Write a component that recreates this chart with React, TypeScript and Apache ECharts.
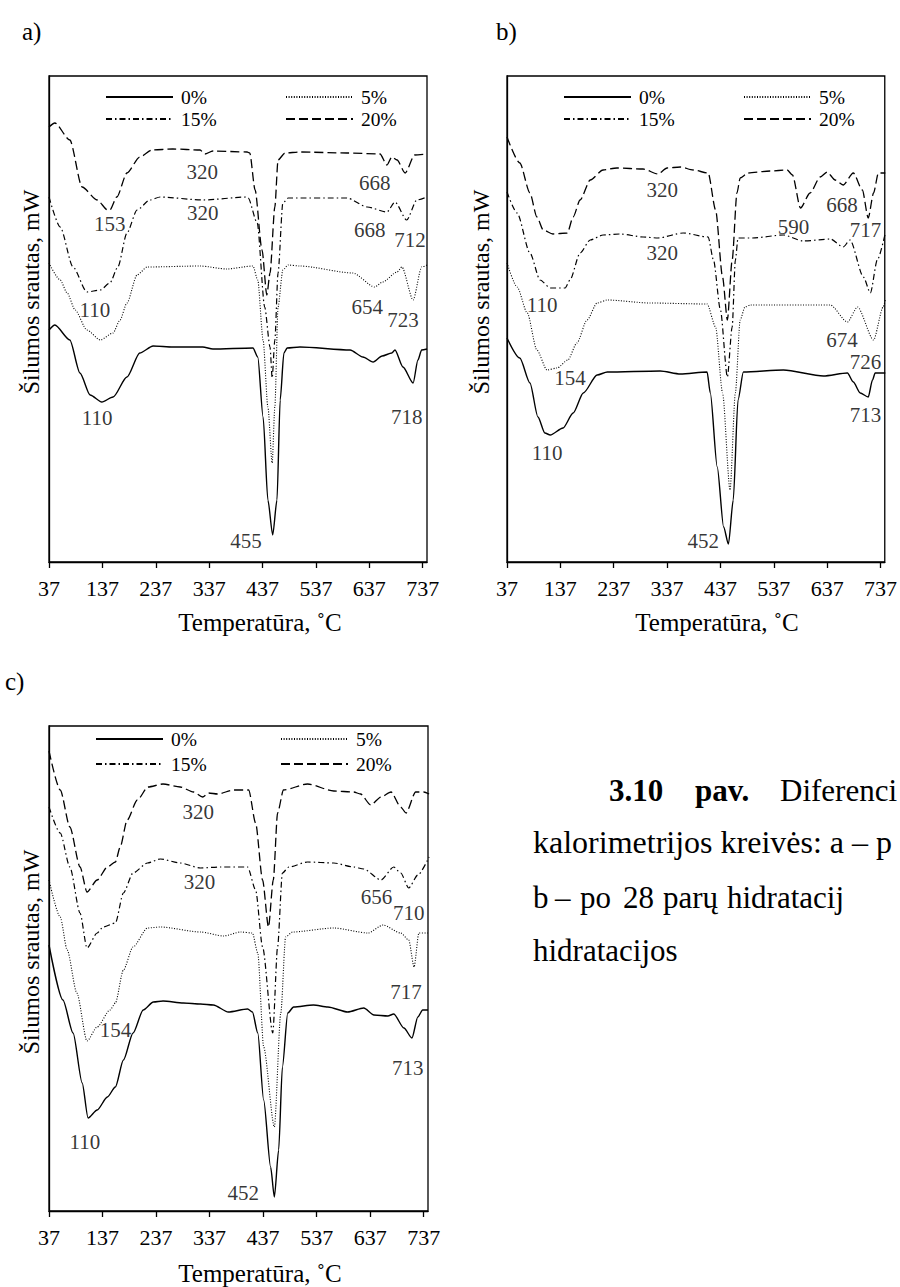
import React, { useEffect, useRef } from "react";
import * as echarts from "echarts";

const FONT = "Liberation Serif";

// Temperature ticks (°C)
const TICKS = [37, 137, 237, 337, 437, 537, 637, 737];
const SERIES_NAMES = ["0%", "5%", "15%", "20%"];

// ---------- Panel a ----------  [temperature °C, heat flow (arb. mW)]
const a20 = [[37,43.5],[48,43.9],[76,42.2],[99,37.5],[127,36.2],[147,35.2],[151,35.2],[164,36.5],[183,38.9],[207,40.5],[230,41.2],[269,41.3],[320,41.2],[329,40.8],[344,41.1],[408,41.0],[413,40.9],[423,37.2],[436,31.2],[445,26.7],[451,28.9],[460,35.5],[466,40.2],[479,40.9],[507,41.0],[595,40.9],[657,40.8],[670,39.7],[679,40.5],[689,40.2],[704,38.9],[722,40.7],[745,40.8]];
const a15 = [[37,36.5],[58,33.5],[82,29.5],[108,27.0],[133,27.2],[151,27.9],[166,29.5],[183,32.9],[202,35.2],[226,36.2],[245,36.5],[325,36.2],[408,36.5],[410,36.4],[427,33.9],[441,25.5],[451,21.5],[455,18.4],[460,22.2],[466,28.9],[475,35.9],[485,36.4],[595,36.4],[633,35.5],[670,35.0],[685,36.0],[707,34.2],[726,36.2],[745,36.5]];
const a5 = [[37,29.9],[58,28.2],[71,26.9],[86,25.2],[108,23.2],[133,22.2],[157,22.9],[170,24.2],[183,25.9],[202,28.7],[221,29.5],[320,29.6],[370,29.3],[419,29.6],[428,28.2],[438,22.2],[447,15.5],[455,9.9],[460,15.5],[466,25.5],[475,29.2],[485,29.7],[507,29.6],[606,28.9],[647,27.5],[662,28.0],[689,29.0],[698,29.5],[719,26.2],[735,29.5],[745,29.7]];
const a0 = [[37,23.2],[48,23.7],[76,22.2],[95,18.9],[114,16.7],[136,16.0],[157,16.5],[183,18.5],[207,20.9],[232,21.6],[269,21.5],[325,21.5],[344,21.3],[419,21.4],[428,20.5],[438,14.5],[447,6.2],[456,2.7],[464,6.2],[470,16.2],[477,20.9],[483,21.4],[507,21.5],[601,21.2],[625,20.5],[644,20.0],[661,20.6],[679,20.9],[685,21.2],[700,19.5],[719,17.9],[728,20.2],[735,21.2],[745,21.3]];
const aLabels = [[151,33.8,"153"],[324,39.0,"320"],[647,37.9,"668"],[325,34.9,"320"],[638,33.2,"668"],[713,32.2,"712"],[123,25.2,"110"],[633,25.5,"654"],[700,24.2,"723"],[127,14.4,"110"],[707,14.5,"718"],[406,2.1,"455"]];

// ---------- Panel b ----------
const b20 = [[37,42.5],[61,39.9],[80,36.9],[93,34.5],[105,33.2],[123,32.8],[150,32.9],[161,34.5],[174,36.2],[193,38.2],[217,39.2],[243,39.4],[292,39.3],[320,38.8],[337,39.4],[362,39.5],[386,39.2],[414,38.9],[428,35.2],[441,28.5],[450,24.2],[459,30.2],[468,36.9],[474,38.4],[489,38.9],[530,39.1],[562,39.2],[572,38.7],[587,35.4],[605,36.9],[624,38.5],[637,39.0],[652,38.2],[667,37.7],[686,38.9],[703,37.2],[714,34.4],[724,36.9],[733,38.9],[746,38.9]];
const b15 = [[37,37.0],[56,34.9],[80,30.9],[99,28.2],[118,27.4],[146,27.4],[155,28.2],[174,30.9],[193,32.2],[217,32.7],[249,32.8],[292,32.5],[320,32.4],[367,32.9],[414,32.5],[424,30.2],[437,25.2],[450,18.5],[459,23.5],[465,30.2],[470,32.4],[497,32.4],[555,32.7],[592,32.1],[643,32.3],[667,31.5],[680,32.2],[705,28.5],[718,26.9],[731,30.2],[746,32.9]];
const b5 = [[37,29.9],[56,27.5],[75,24.9],[93,21.2],[112,19.2],[131,19.4],[151,20.2],[168,21.9],[187,24.2],[206,25.9],[225,26.2],[305,25.9],[412,25.8],[428,23.5],[441,16.9],[455,7.2],[465,16.9],[474,24.2],[483,25.5],[493,25.7],[643,25.7],[675,24.0],[694,25.5],[724,22.2],[742,25.5],[746,26.2]];
const b0 = [[37,22.4],[61,20.4],[80,17.9],[95,14.5],[108,12.9],[118,12.7],[142,13.4],[161,14.9],[180,16.9],[206,18.7],[225,19.0],[324,19.1],[362,18.8],[412,19.0],[418,16.9],[431,9.5],[443,3.5],[452,1.8],[461,6.2],[470,16.2],[480,19.0],[555,19.2],[630,18.6],[675,18.9],[686,18.0],[699,16.9],[714,16.5],[722,18.2],[727,18.9],[746,18.9]];
const bLabels = [[328,37.2,"320"],[328,30.9,"320"],[574,33.5,"590"],[665,35.7,"668"],[709,33.2,"717"],[103,25.7,"110"],[665,22.2,"674"],[709,20.0,"726"],[155,18.4,"154"],[112,10.9,"110"],[709,14.7,"713"],[405,2.1,"452"]];

// ---------- Panel c ----------
const c20 = [[37,46.0],[58,42.1],[76,38.4],[95,34.4],[108,31.9],[127,33.1],[146,34.4],[161,34.9],[170,36.4],[183,39.1],[202,41.1],[222,42.4],[250,42.7],[282,42.4],[307,41.9],[324,41.4],[335,41.8],[352,41.7],[382,42.1],[410,42.1],[423,38.8],[436,33.1],[447,28.4],[456,33.1],[464,39.8],[475,42.1],[520,42.7],[569,42.0],[606,41.9],[619,41.7],[638,40.6],[657,41.4],[676,41.9],[694,40.4],[704,39.8],[722,41.9],[737,41.9],[747,41.7]];
const c15 = [[37,40.4],[58,37.8],[76,34.4],[95,29.8],[108,26.3],[127,27.8],[138,28.4],[161,28.8],[176,31.8],[194,33.8],[221,34.8],[245,35.2],[282,34.8],[320,34.3],[357,34.4],[408,34.4],[423,32.1],[436,26.4],[455,17.8],[464,26.4],[473,33.8],[485,34.4],[520,34.9],[569,34.8],[606,34.4],[625,34.2],[657,33.1],[681,34.4],[694,33.8],[709,32.3],[726,33.6],[747,35.4]];
const c5 = [[37,33.1],[58,29.4],[71,26.1],[89,21.8],[108,17.0],[127,18.4],[151,20.1],[161,20.8],[176,24.1],[194,26.4],[221,28.3],[245,28.4],[320,27.9],[363,27.5],[395,27.9],[417,27.8],[427,25.8],[438,16.4],[458,8.4],[470,19.8],[479,27.4],[492,27.9],[569,28.3],[633,27.8],[661,28.6],[694,27.8],[709,27.1],[719,24.4],[728,27.8],[745,27.8]];
const c0 = [[37,26.6],[63,21.1],[82,17.8],[99,12.8],[110,9.3],[127,10.1],[146,11.4],[161,12.4],[176,15.1],[194,17.8],[213,20.1],[232,20.9],[250,21.0],[288,20.8],[320,20.7],[344,20.6],[372,19.9],[408,20.2],[417,19.9],[427,17.8],[438,11.1],[451,4.4],[458,1.4],[466,6.1],[473,14.4],[483,19.8],[494,20.4],[531,20.6],[558,20.4],[595,19.9],[625,20.3],[644,19.6],[670,19.5],[681,19.7],[700,18.3],[715,17.3],[726,19.4],[735,20.1],[745,20.1]];
const cLabels = [[316,39.9,"320"],[318,32.9,"320"],[649,31.4,"656"],[709,29.8,"710"],[704,21.9,"717"],[161,18.1,"154"],[707,14.3,"713"],[104,6.9,"110"],[400,1.8,"452"]];

const PANELS = [
  { series: [a0, a5, a15, a20], labels: aLabels, yMax: 48.6 },
  { series: [b0, b5, b15, b20], labels: bLabels, yMax: 48.6 },
  { series: [c0, c5, c15, c20], labels: cLabels, yMax: 48.5 },
];

const GRIDS = [
  { left: 49, top: 76, width: 378, height: 486 },
  { left: 507, top: 76, width: 378, height: 486 },
  { left: 49, top: 726, width: 379, height: 485 },
];

const LINE_STYLES: Record<string, any> = {
  "0%": { type: "solid", width: 1.4 },
  "5%": { type: [1, 1.6], width: 1.1 },
  "15%": { type: [6, 3, 1.5, 3], width: 1.2 },
  "20%": { type: [9, 4], width: 1.3 },
};

function txt(x: number, y: number, text: string, fontSize: number, opts: any = {}) {
  return {
    type: "text",
    x,
    y,
    rotation: opts.rotation || 0,
    z: 10,
    style: {
      text,
      fontSize,
      fontFamily: FONT,
      fontWeight: opts.bold ? "bold" : "normal",
      fill: "#000",
      align: opts.align || "left",
      verticalAlign: "middle",
    },
  };
}

export default function App() {
  const ref = useRef<HTMLDivElement>(null);
  useEffect(() => {
    if (!ref.current) return;
    const chart = echarts.init(ref.current, undefined, { renderer: "svg" });

    const grid = GRIDS.map((g) => ({
      ...g,
      show: true,
      borderColor: "#000",
      borderWidth: 1.3,
      backgroundColor: "transparent",
    }));

    const xAxis = GRIDS.map((_, i) => ({
      type: "value",
      gridIndex: i,
      min: 37,
      max: 745,
      axisLine: { show: true, onZero: false, lineStyle: { color: "#000", width: 1.3 } },
      axisTick: { show: true, inside: false, length: 6, customValues: TICKS, lineStyle: { color: "#000", width: 1.3 } },
      axisLabel: { show: true, customValues: TICKS, fontSize: 22, fontFamily: FONT, color: "#000", margin: 15 },
      splitLine: { show: false },
    }));

    const yAxis = PANELS.map((p, i) => ({
      type: "value",
      gridIndex: i,
      min: 0,
      max: p.yMax,
      axisLine: { show: true, lineStyle: { color: "#000", width: 1.3 } },
      axisTick: { show: false },
      axisLabel: { show: false },
      splitLine: { show: false },
    }));

    const series: any[] = [];
    PANELS.forEach((p, i) => {
      p.series.forEach((data, k) => {
        const name = SERIES_NAMES[k];
        series.push({
          type: "line",
          name,
          xAxisIndex: i,
          yAxisIndex: i,
          data,
          symbol: "none",
          showSymbol: false,
          smooth: 0.25,
          smoothMonotone: "x",
          lineStyle: { color: "#000", ...LINE_STYLES[name] },
          itemStyle: { color: "#000" },
          z: 3,
        });
      });
      series.push({
        type: "scatter",
        name: "labels" + i,
        xAxisIndex: i,
        yAxisIndex: i,
        data: p.labels,
        symbolSize: 1,
        itemStyle: { color: "rgba(0,0,0,0)" },
        label: {
          show: true,
          position: "inside",
          formatter: (d: any) => d.data[2],
          fontSize: 21,
          fontFamily: FONT,
          color: "#000",
        },
        z: 5,
      });
    });

    const legendBase = {
      orient: "vertical",
      padding: 0,
      itemWidth: 67,
      itemHeight: 20,
      selectedMode: false,
      itemStyle: { opacity: 0, color: "rgba(0,0,0,0)", borderWidth: 0 },
      textStyle: { fontSize: 19.5, fontFamily: FONT, color: "#000", lineHeight: 20, padding: [0, 0, 0, 3] },
    };
    const legend = [
      { ...legendBase, left: 105, top: 87, itemGap: 2, data: ["0%", "15%"] },
      { ...legendBase, left: 285, top: 87, itemGap: 2, data: ["5%", "20%"] },
      { ...legendBase, left: 563, top: 87, itemGap: 2, data: ["0%", "15%"] },
      { ...legendBase, left: 743, top: 87, itemGap: 2, data: ["5%", "20%"] },
      { ...legendBase, left: 95, top: 729, itemGap: 5, data: ["0%", "15%"] },
      { ...legendBase, left: 280, top: 729, itemGap: 5, data: ["5%", "20%"] },
    ];

    const graphic = [
      txt(22, 31, "a)", 25),
      txt(496, 31, "b)", 25),
      txt(5, 681, "c)", 25),
      txt(260, 622, "Temperatūra, ˚C", 25, { align: "center" }),
      txt(717, 622, "Temperatūra, ˚C", 25, { align: "center" }),
      txt(260, 1273, "Temperatūra, ˚C", 25, { align: "center" }),
      txt(31, 292, "Šilumos srautas, mW", 24, { align: "center", rotation: Math.PI / 2 }),
      txt(481, 292, "Šilumos srautas, mW", 24, { align: "center", rotation: Math.PI / 2 }),
      txt(31, 952, "Šilumos srautas, mW", 24, { align: "center", rotation: Math.PI / 2 }),
      // caption
      txt(609, 790, "3.10", 31, { bold: true }),
      txt(695, 790, "pav.", 31, { bold: true }),
      txt(780, 790, "Diferenci", 31),
      txt(533, 842, "kalorimetrijos kreivės: a – p", 32),
      txt(533, 897, "b", 31),
      txt(555, 897, "–", 31),
      txt(580, 897, "po", 31),
      txt(623, 897, "28", 31),
      txt(663, 897, "parų", 31),
      txt(727, 897, "hidratacij", 31),
      txt(533, 950, "hidratacijos", 31),
    ];

    chart.setOption({
      animation: false,
      backgroundColor: "#fff",
      textStyle: { fontFamily: FONT },
      grid,
      xAxis,
      yAxis,
      legend,
      series,
      graphic,
    });
    return () => chart.dispose();
  }, []);

  return (
    <div
      ref={ref}
      style={{ position: "absolute", left: 0, top: 0, width: 900, height: 1287, background: "#fff" }}
    />
  );
}
